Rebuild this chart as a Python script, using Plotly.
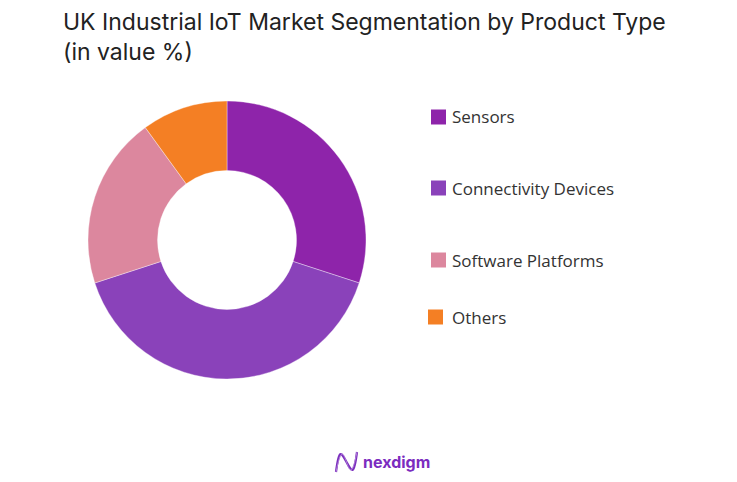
import plotly.graph_objects as go

W, H = 737, 482
OFF = 8  # page body margin offset

title_lines = ["UK Industrial IoT Market Segmentation by Product Type", "(in value %)"]
labels = ["Sensors", "Connectivity Devices", "Software Platforms", "Others"]
values = [30, 40, 20, 10]
colors = ["#8E24AA", "#8A42BA", "#DC879E", "#F47F24"]
legend_y_px = [117, 188, 260, 317]
brand = "nexdigm"


def px_x(x):
    return (x - OFF) / W


def px_y(y):
    return 1 - (y - OFF) / H


fig = go.Figure()
fig.add_trace(go.Pie(
    labels=labels,
    values=values,
    hole=0.5,
    sort=False,
    direction="clockwise",
    rotation=0,
    marker=dict(colors=colors, line=dict(color="rgba(255,255,255,0.6)", width=0.6)),
    textinfo="none",
    hoverinfo="label+percent",
    showlegend=False,
    domain=dict(x=[px_x(88), px_x(366)], y=[px_y(379), px_y(101)]),
))

shapes = []
annotations = []

annotations.append(dict(
    x=px_x(61), y=px_y(6), xref="paper", yref="paper",
    xanchor="left", yanchor="top", align="left", showarrow=False,
    text="<br>".join(title_lines),
    font=dict(family="Inter, Noto Sans, sans-serif", size=23, color="#222222"),
))

for i, (lab, col, yc) in enumerate(zip(labels, colors, legend_y_px)):
    x0 = 431 if i < 3 else 428
    shapes.append(dict(
        type="rect", xref="paper", yref="paper",
        x0=px_x(x0), x1=px_x(x0 + 15), y0=px_y(yc + 7.5), y1=px_y(yc - 7.5),
        fillcolor=col, line=dict(width=0),
    ))
    annotations.append(dict(
        x=px_x(450), y=px_y(yc), xref="paper", yref="paper",
        xanchor="left", yanchor="middle", showarrow=False,
        text=lab,
        font=dict(family="Open Sans, Noto Sans, sans-serif", size=17, color="#333333"),
    ))


def wave_path(offset):
    x0, x1 = 336, 357
    y_top, y_bot = 452, 472
    path = f"M {px_x(x0)} {px_y(y_bot)} "
    path += f"C {px_x(x0 + 3 + offset)} {px_y(y_top - 4)}, {px_x(x0 + 5 + offset)} {px_y(y_top)}, {px_x((x0 + x1) / 2)} {px_y((y_top + y_bot) / 2)} "
    path += f"S {px_x(x1 - 3 - offset)} {px_y(y_bot + 4)}, {px_x(x1)} {px_y(y_top)}"
    return path

for off, wdt, col in [(0, 2.2, "#7B2FBE"), (2, 1.0, "#B07CD8")]:
    shapes.append(dict(type="path", xref="paper", yref="paper", path=wave_path(off),
                       line=dict(color=col, width=wdt)))

annotations.append(dict(
    x=px_x(361), y=px_y(462), xref="paper", yref="paper",
    xanchor="left", yanchor="middle", showarrow=False,
    text=f"<b>{brand}</b>",
    font=dict(family="Inter, Noto Sans, sans-serif", size=16, color="#7B2CBF"),
))

fig.update_layout(
    width=W, height=H,
    margin=dict(l=0, r=0, t=0, b=0),
    paper_bgcolor="white",
    plot_bgcolor="white",
    shapes=shapes,
    annotations=annotations,
)

fig.write_html("out.html")
